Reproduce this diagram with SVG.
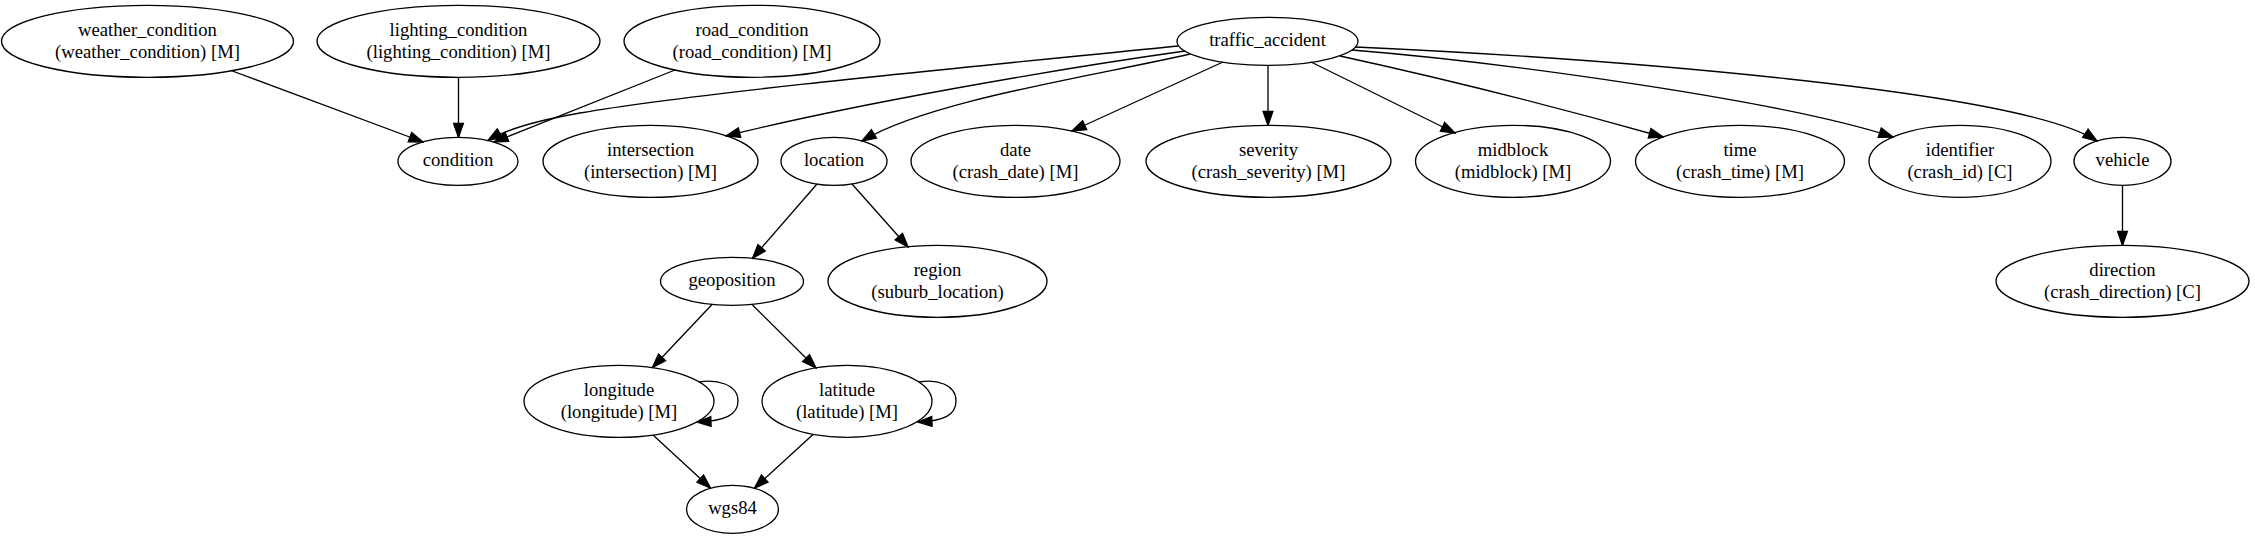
<svg xmlns="http://www.w3.org/2000/svg" width="2255" height="539" viewBox="0 0 2255 539">
<style>
.n ellipse{fill:none;stroke:#000;stroke-width:1.33}
.n text{font-family:"Liberation Serif","Times New Roman",serif;font-size:18.67px;text-anchor:middle;fill:#000}
.e path{fill:none;stroke:#000;stroke-width:1.33;marker-end:url(#ah)}
</style>
<defs>
<marker id="ah" markerUnits="userSpaceOnUse" markerWidth="16" markerHeight="12" viewBox="-1 -1 15.3 11.3" refX="13.3" refY="4.67" orient="auto">
<path d="M0,0 L13.3,4.67 L0,9.33 Z" fill="#000" stroke="#000" stroke-width="1.33"/>
</marker>
</defs>
<rect width="2255" height="539" fill="#fff"/>
<g id="connectors" class="e">
<path d="M231,70.5 L423,142"/>
<path d="M458.5,77.3 L458.5,137.3"/>
<path d="M675,70 L494,142"/>
<path d="M1178,46 C1000,64 700,92 580,113 C540,120 508,128 488,140.5"/>
<path d="M1185,51 C1050,70 850,105 726,136"/>
<path d="M1190,54 C1100,75 930,100 862,141"/>
<path d="M1223,62 L1072,131"/>
<path d="M1268,65.3 L1268,125.3"/>
<path d="M1311,62 L1455,133"/>
<path d="M1340,56 C1450,80 1560,108 1663,137"/>
<path d="M1352,50 C1500,62 1780,100 1893,137"/>
<path d="M1355,47 C1600,58 2020,90 2097,141"/>
<path d="M2122.5,185.3 L2122.5,245.3"/>
<path d="M817,184 L752.5,258.3"/>
<path d="M852,184 L908,247"/>
<path d="M712,304.5 L652.5,367.5"/>
<path d="M752,304.5 L816,368"/>
<path d="M699,382 C716,379 738,384 738,401 C738,415 725,421 697,422"/>
<path d="M919,382 C936,379 956,384 956,401 C956,415 944,421 918,422"/>
<path d="M653,435 L710.5,488"/>
<path d="M813,434.5 L754.5,488"/>
</g>
<g id="weather_condition" class="n"><ellipse cx="147.5" cy="41.3" rx="146" ry="36"/><text x="147.5" y="35.8">weather_condition</text><text x="147.5" y="57.8">(weather_condition) [M]</text></g>
<g id="lighting_condition" class="n"><ellipse cx="458.5" cy="41.3" rx="141.5" ry="36"/><text x="458.5" y="35.8">lighting_condition</text><text x="458.5" y="57.8">(lighting_condition) [M]</text></g>
<g id="road_condition" class="n"><ellipse cx="752" cy="41.3" rx="128" ry="36"/><text x="752" y="35.8">road_condition</text><text x="752" y="57.8">(road_condition) [M]</text></g>
<g id="traffic_accident" class="n"><ellipse cx="1267.5" cy="41.3" rx="90.5" ry="24"/><text x="1267.5" y="46.3">traffic_accident</text></g>
<g id="condition" class="n"><ellipse cx="458" cy="161.3" rx="60" ry="24"/><text x="458" y="166.3">condition</text></g>
<g id="intersection" class="n"><ellipse cx="650.5" cy="161.3" rx="107.5" ry="36"/><text x="650.5" y="155.8">intersection</text><text x="650.5" y="177.8">(intersection) [M]</text></g>
<g id="location" class="n"><ellipse cx="834" cy="161.3" rx="53" ry="24"/><text x="834" y="166.3">location</text></g>
<g id="date" class="n"><ellipse cx="1015.5" cy="161.3" rx="104.5" ry="36"/><text x="1015.5" y="155.8">date</text><text x="1015.5" y="177.8">(crash_date) [M]</text></g>
<g id="severity" class="n"><ellipse cx="1268.5" cy="161.3" rx="122.5" ry="36"/><text x="1268.5" y="155.8">severity</text><text x="1268.5" y="177.8">(crash_severity) [M]</text></g>
<g id="midblock" class="n"><ellipse cx="1513" cy="161.3" rx="97.5" ry="36"/><text x="1513" y="155.8">midblock</text><text x="1513" y="177.8">(midblock) [M]</text></g>
<g id="time" class="n"><ellipse cx="1740" cy="161.3" rx="104.5" ry="36"/><text x="1740" y="155.8">time</text><text x="1740" y="177.8">(crash_time) [M]</text></g>
<g id="identifier" class="n"><ellipse cx="1960" cy="161.3" rx="91" ry="36"/><text x="1960" y="155.8">identifier</text><text x="1960" y="177.8">(crash_id) [C]</text></g>
<g id="vehicle" class="n"><ellipse cx="2122.5" cy="161.3" rx="48.5" ry="24"/><text x="2122.5" y="166.3">vehicle</text></g>
<g id="direction" class="n"><ellipse cx="2122.5" cy="281.3" rx="126.5" ry="36"/><text x="2122.5" y="275.8">direction</text><text x="2122.5" y="297.8">(crash_direction) [C]</text></g>
<g id="geoposition" class="n"><ellipse cx="732" cy="281.3" rx="71.5" ry="24"/><text x="732" y="286.3">geoposition</text></g>
<g id="region" class="n"><ellipse cx="937.5" cy="281.3" rx="109.5" ry="36"/><text x="937.5" y="275.8">region</text><text x="937.5" y="297.8">(suburb_location)</text></g>
<g id="longitude" class="n"><ellipse cx="619" cy="401.3" rx="95" ry="36"/><text x="619" y="395.8">longitude</text><text x="619" y="417.8">(longitude) [M]</text></g>
<g id="latitude" class="n"><ellipse cx="847" cy="401.3" rx="85" ry="36"/><text x="847" y="395.8">latitude</text><text x="847" y="417.8">(latitude) [M]</text></g>
<g id="wgs84" class="n"><ellipse cx="732.5" cy="509.3" rx="46" ry="24"/><text x="732.5" y="514.3">wgs84</text></g>
</svg>
